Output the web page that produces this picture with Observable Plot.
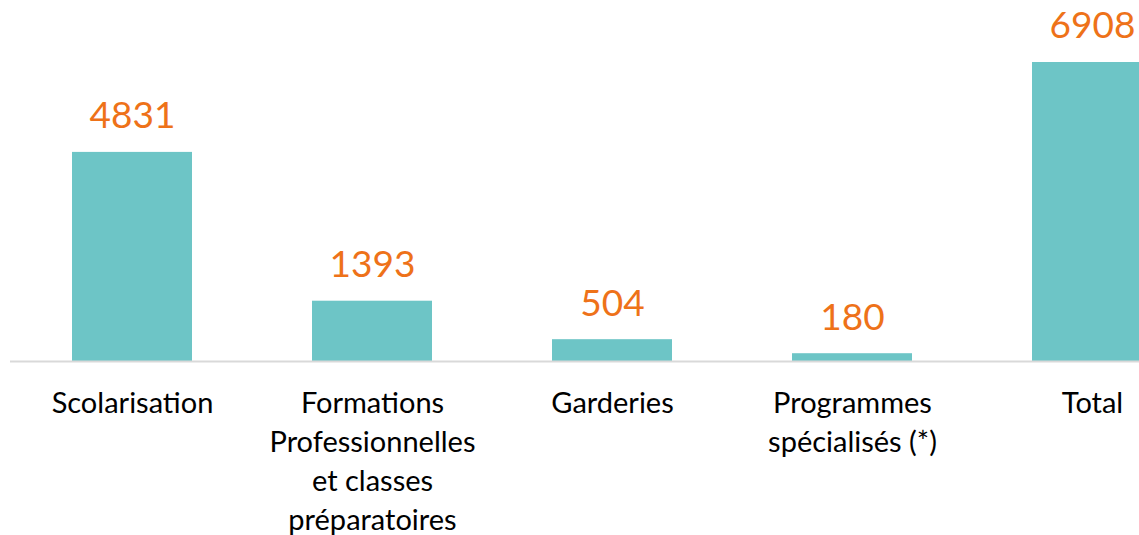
<!DOCTYPE html>
<html>
<head>
<meta charset="utf-8">
<script src="https://cdn.jsdelivr.net/npm/d3@7"></script>
<script src="https://cdn.jsdelivr.net/npm/@observablehq/plot@0.6"></script>
<style>
  html, body { margin: 0; padding: 0; background: #fff; overflow: hidden; width: 1139px; height: 535px; }
  #chart svg { display: block; max-width: none !important; }
</style>
</head>
<body>
<div id="chart"></div>
<script>
const categories = [
  "Scolarisation",
  "Formations\nProfessionnelles\net classes\npréparatoires",
  "Garderies",
  "Programmes\nspécialisés (*)",
  "Total"
];
const values = [4831, 1393, 504, 180, 6908];

const data = categories.map((c, i) => ({ category: c, value: values[i] }));

const chart = Plot.plot({
  width: 1213,
  height: 535,
  marginLeft: 10,
  marginRight: 0,
  marginTop: 62,
  marginBottom: 174,
  style: { background: "#fff", overflow: "visible", maxWidth: "none" },
  x: { domain: categories, paddingInner: 0.5, paddingOuter: 0.25, axis: null },
  y: { domain: [0, 6908], axis: null },
  marks: [
    Plot.barY(data, { x: "category", y: "value", fill: "#6DC5C6" }),
    Plot.ruleY([0], { stroke: "#d9d9d9", strokeWidth: 2 }),
    Plot.text(data, {
      x: "category", y: "value", text: d => String(d.value),
      dy: -36, fill: "#EE7219", fontSize: 37, fontFamily: "Lato, 'Open Sans', sans-serif"
    }),
    Plot.axisX({
      tickSize: 0, tickPadding: 24, fontSize: 29, lineHeight: 1.345,
      fontFamily: "Lato, 'Noto Sans', sans-serif", color: "#000", label: null
    })
  ]
});
document.getElementById("chart").appendChild(chart);
</script>
</body>
</html>
